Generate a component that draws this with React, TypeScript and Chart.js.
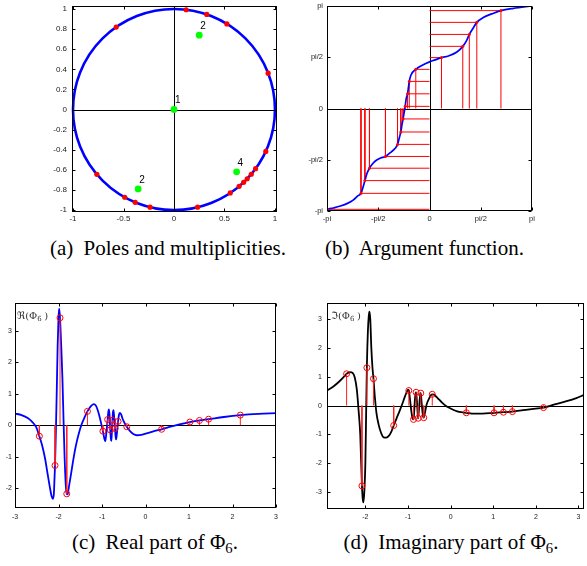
import React, { useEffect, useRef } from 'react';
import { Chart, registerables } from 'chart.js';

Chart.register(...registerables);

const PI = Math.PI;

// ---------------- data ----------------
// angles (rad) of the red points on the unit circle; also the abscissae of the stems in (c) and (d)
const POLE_ANGLES = [-2.44, -2.08, -1.965, -1.81, -1.335, -0.98, -0.87, -0.81, -0.76, -0.7, -0.63, -0.43, 0.37, 1.02, 1.24, 1.45, 2.18];
// green points and their multiplicities
const ZERO_X = [0, 0.25, -0.355, 0.62];
const ZERO_Y = [0, 0.74, -0.79, -0.62];
const ZERO_MULT = ['1', '2', '2', '4'];

// (b) argument function
const ARG_X = [-3.1416, -3.13, -2.95, -2.73, -2.5, -2.33, -2.2, -2.1, -2.04, -1.98, -1.92, -1.84, -1.75, -1.66, -1.5, -1.35, -1.16, -1.05, -0.98, -0.92, -0.88, -0.84, -0.81, -0.775, -0.745, -0.714, -0.673, -0.643, -0.62, -0.57, -0.42, -0.235, 0, 0.17, 0.367, 0.58, 0.84, 1.02, 1.14, 1.22, 1.33, 1.45, 1.65, 1.91, 2.19, 2.57, 3.1416];
const ARG_Y = [-3.1, -3.09, -3.05, -2.99, -2.9, -2.8, -2.68, -2.6, -2.42, -2.21, -2.0, -1.83, -1.7, -1.61, -1.52, -1.47, -1.32, -1.22, -1.1, -0.88, -0.72, -0.47, -0.32, -0.11, 0.066, 0.3, 0.45, 0.66, 0.83, 1.02, 1.2, 1.32, 1.43, 1.49, 1.56, 1.61, 1.73, 1.905, 2.09, 2.27, 2.45, 2.64, 2.79, 2.9, 3.0, 3.07, 3.1416];
const ARG_PT_X = [-3.13, -2.1, -1.98, -1.84, -1.35, -0.98, -0.88, -0.81, -0.745, -0.673, -0.62, -0.42, 0.367, 1.02, 1.22, 1.45, 2.19];
const ARG_LEVELS = [-3.09, -2.6, -2.21, -1.83, -1.47, -1.1, -0.72, -0.32, 0.066, 0.45, 0.83, 1.2, 1.56, 1.905, 2.27, 2.64, 3.0];
const ARG_TICKS = [-PI, -PI / 2, 0, PI / 2, PI];
const ARG_TICK_LABELS = ['-pi', '-pi/2', '0', 'pi/2', 'pi'];

// (c) real part
const RE_X = [-3, -2.85, -2.7, -2.6, -2.54, -2.5, -2.44, -2.38, -2.31, -2.25, -2.2, -2.16, -2.13, -2.105, -2.095, -2.08, -2.06, -2.04, -2.02, -2.0, -1.985, -1.965, -1.94, -1.91, -1.885, -1.86, -1.835, -1.81, -1.79, -1.765, -1.72, -1.66, -1.6, -1.53, -1.47, -1.4, -1.335, -1.26, -1.19, -1.14, -1.09, -1.03, -0.98, -0.95, -0.925, -0.9, -0.87, -0.855, -0.842, -0.828, -0.81, -0.797, -0.786, -0.774, -0.76, -0.747, -0.736, -0.72, -0.7, -0.686, -0.674, -0.657, -0.63, -0.61, -0.59, -0.56, -0.52, -0.47, -0.43, -0.36, -0.28, -0.2, -0.1, 0, 0.2, 0.37, 0.6, 0.8, 1.02, 1.24, 1.45, 1.8, 2.18, 2.6, 3];
const RE_Y = [0.37, 0.32, 0.22, 0.1, 0, -0.1, -0.35, -0.62, -1.05, -1.55, -1.96, -2.25, -2.34, -2.15, -1.8, -1.28, -0.2, 1.1, 2.5, 3.4, 3.7, 3.41, 2.6, 1.5, 0.2, -1.0, -1.85, -2.18, -2.2, -2.0, -1.62, -1.1, -0.65, -0.25, 0.02, 0.25, 0.44, 0.6, 0.67, 0.62, 0.44, 0.12, -0.19, -0.4, -0.51, -0.25, 0.18, 0.42, 0.5, 0.35, -0.15, -0.42, -0.5, -0.25, 0.16, 0.42, 0.48, 0.25, -0.11, -0.38, -0.45, -0.25, 0.12, 0.33, 0.39, 0.34, 0.18, 0.04, -0.05, -0.18, -0.28, -0.32, -0.31, -0.27, -0.19, -0.13, -0.04, 0.03, 0.1, 0.15, 0.19, 0.26, 0.32, 0.36, 0.38];
const RE_AT_POLES = [-0.35, -1.28, 3.41, -2.18, 0.44, -0.19, 0.18, -0.15, 0.16, -0.11, 0.12, -0.05, -0.13, 0.1, 0.15, 0.19, 0.32];

// (d) imaginary part
const IM_X = [-2.9, -2.75, -2.6, -2.5, -2.44, -2.36, -2.3, -2.25, -2.2, -2.16, -2.12, -2.08, -2.06, -2.045, -2.025, -2.0, -1.985, -1.965, -1.94, -1.92, -1.905, -1.885, -1.86, -1.835, -1.81, -1.78, -1.74, -1.69, -1.63, -1.57, -1.51, -1.45, -1.39, -1.335, -1.27, -1.2, -1.13, -1.07, -1.02, -0.995, -0.98, -0.955, -0.925, -0.895, -0.87, -0.855, -0.84, -0.82, -0.81, -0.795, -0.78, -0.768, -0.76, -0.748, -0.728, -0.71, -0.7, -0.685, -0.665, -0.645, -0.63, -0.61, -0.56, -0.5, -0.46, -0.43, -0.39, -0.31, -0.2, -0.1, 0, 0.1, 0.2, 0.37, 0.55, 0.75, 1.02, 1.24, 1.45, 1.7, 1.9, 2.18, 2.42, 2.72, 2.95, 3.13];
const IM_Y = [0.52, 0.66, 0.85, 1.0, 1.1, 1.16, 1.13, 0.98, 0.55, -0.15, -1.0, -2.78, -3.25, -3.35, -3.0, -2.0, -0.6, 1.31, 2.6, 3.1, 3.25, 3.0, 2.0, 1.35, 0.93, 0.35, -0.25, -0.65, -0.95, -1.1, -1.11, -1.05, -0.9, -0.69, -0.45, -0.2, 0.07, 0.32, 0.5, 0.55, 0.52, 0.25, -0.15, -0.44, -0.48, -0.25, 0.15, 0.44, 0.46, 0.25, -0.1, -0.38, -0.44, -0.25, 0.15, 0.41, 0.43, 0.2, -0.15, -0.38, -0.42, -0.3, 0.05, 0.26, 0.36, 0.39, 0.38, 0.27, 0.1, -0.02, -0.1, -0.17, -0.22, -0.25, -0.28, -0.28, -0.25, -0.23, -0.21, -0.16, -0.12, -0.07, 0.03, 0.15, 0.26, 0.37];
const IM_AT_POLES = [1.1, -2.78, 1.31, 0.93, -0.69, 0.52, -0.48, 0.46, -0.44, 0.43, -0.42, 0.39, -0.25, -0.25, -0.23, -0.21, -0.07];

const A_X_TICKS = [-1, -0.5, 0, 0.5, 1];
const A_Y_TICKS = [-1, -0.8, -0.6, -0.4, -0.2, 0, 0.2, 0.4, 0.6, 0.8, 1];
const C_X_TICKS = [-3, -2, -1, 0, 1, 2, 3];
const C_Y_TICKS = [-2, -1, 0, 1, 2, 3];
const D_X_TICKS = [-2, -1, 0, 1, 2, 3];
const D_Y_TICKS = [-3, -2, -1, 0, 1, 2, 3];

// ---------------- helpers ----------------
const pts = (xs: number[], ys: number[]) => xs.map((x, i) => ({ x, y: ys[i] }));
const vStems = (xs: number[], ys: number[]) =>
  xs.flatMap((x, i) => [{ x, y: 0 }, { x, y: ys[i] }, { x, y: null as any }]);
const hStems = (xs: number[], ys: number[]) =>
  xs.flatMap((x, i) => [{ x, y: ys[i] }, { x: 0, y: ys[i] }, { x: 0, y: null as any }]);

const TICK_FONT = '"Liberation Sans", Arial, Helvetica, sans-serif';

type AxisCfg = { min: number; max: number; ticks: number[]; labels?: string[]; size: number; pad: number; font: number };

function scale(ax: AxisCfg, isX: boolean) {
  return {
    type: 'linear',
    position: isX ? 'bottom' : 'left',
    min: ax.min,
    max: ax.max,
    grid: { display: false, drawTicks: false },
    border: { display: false },
    ticks: {
      padding: ax.pad,
      color: '#222',
      autoSkip: false,
      maxRotation: 0,
      minRotation: 0,
      font: { family: TICK_FONT, size: ax.font },
      callback: (v: number) => {
        const i = ax.ticks.findIndex((t) => Math.abs(t - v) < 1e-9);
        return ax.labels ? ax.labels[i] : String(v);
      },
    },
    afterBuildTicks: (s: any) => {
      s.ticks = ax.ticks.map((v) => ({ value: v }));
    },
    afterFit: (s: any) => {
      if (isX) s.height = ax.size;
      else s.width = ax.size;
      s.paddingLeft = 0;
      s.paddingRight = 0;
      s.paddingTop = 0;
      s.paddingBottom = 0;
    },
  };
}

function framePlugin(xTicks: number[], yTicks: number[], zeroX: boolean, zeroY: boolean, circle: boolean) {
  return {
    id: 'frame',
    beforeDatasetsDraw(chart: any) {
      const { ctx, chartArea: ca, scales } = chart;
      ctx.save();
      ctx.strokeStyle = '#000';
      ctx.lineWidth = 1;
      ctx.beginPath();
      if (zeroY) {
        const py = Math.round(scales.y.getPixelForValue(0)) + 0.5;
        ctx.moveTo(ca.left, py);
        ctx.lineTo(ca.right, py);
      }
      if (zeroX) {
        const px = Math.round(scales.x.getPixelForValue(0)) + 0.5;
        ctx.moveTo(px, ca.top);
        ctx.lineTo(px, ca.bottom);
      }
      ctx.stroke();
      if (circle) {
        const cx = scales.x.getPixelForValue(0);
        const cy = scales.y.getPixelForValue(0);
        const rx = scales.x.getPixelForValue(1) - cx;
        const ry = cy - scales.y.getPixelForValue(1);
        ctx.beginPath();
        ctx.ellipse(cx, cy, rx, ry, 0, 0, 2 * PI);
        ctx.strokeStyle = '#0000ff';
        ctx.lineWidth = 2.6;
        ctx.stroke();
      }
      ctx.restore();
    },
    afterDraw(chart: any) {
      const { ctx, chartArea: ca, scales } = chart;
      const l = Math.round(ca.left) + 0.5;
      const r = Math.round(ca.right) - 0.5;
      const t = Math.round(ca.top) + 0.5;
      const b = Math.round(ca.bottom) - 0.5;
      const tl = 3;
      ctx.save();
      ctx.strokeStyle = '#000';
      ctx.lineWidth = 1;
      ctx.strokeRect(l, t, r - l, b - t);
      ctx.beginPath();
      xTicks.forEach((v) => {
        const px = Math.round(scales.x.getPixelForValue(v)) + 0.5;
        ctx.moveTo(px, b);
        ctx.lineTo(px, b - tl);
        ctx.moveTo(px, t);
        ctx.lineTo(px, t + tl);
      });
      yTicks.forEach((v) => {
        const py = Math.round(scales.y.getPixelForValue(v)) + 0.5;
        ctx.moveTo(l, py);
        ctx.lineTo(l + tl, py);
        ctx.moveTo(r, py);
        ctx.lineTo(r - tl, py);
      });
      ctx.stroke();
      ctx.restore();
    },
  };
}

const multLabelPlugin = {
  id: 'multLabels',
  afterDatasetsDraw(chart: any) {
    const { ctx, scales } = chart;
    ctx.save();
    ctx.fillStyle = '#000';
    ctx.font = `10px ${TICK_FONT}`;
    ctx.textAlign = 'left';
    ctx.textBaseline = 'middle';
    ZERO_X.forEach((x, i) => {
      const px = scales.x.getPixelForValue(x);
      const py = scales.y.getPixelForValue(ZERO_Y[i]);
      ctx.fillText(ZERO_MULT[i], px + 1, py - 9);
    });
    ctx.restore();
  },
};

function mathLabelPlugin(prefix: string, dx: number) {
  return {
    id: 'mathLabel',
    afterDatasetsDraw(chart: any) {
      const { ctx, chartArea: ca } = chart;
      ctx.save();
      ctx.fillStyle = '#333';
      ctx.textAlign = 'left';
      ctx.textBaseline = 'alphabetic';
      let x = ca.left + dx;
      const y = ca.top + 16;
      const big = '10px "DejaVu Serif", "DejaVu Sans", serif';
      const small = '7px "DejaVu Serif", "DejaVu Sans", serif';
      ctx.font = big;
      const s1 = prefix + '(\u03A6';
      ctx.fillText(s1, x, y);
      x += ctx.measureText(s1).width;
      ctx.font = small;
      ctx.fillText('6', x, y + 2);
      x += ctx.measureText('6').width + 2.5;
      ctx.font = big;
      ctx.fillText(')', x, y);
      ctx.restore();
    },
  };
}

function baseOptions(padTop: number, padRight: number, xs: any, ys: any) {
  return {
    animation: false,
    responsive: false,
    devicePixelRatio: 1,
    events: [],
    layout: { padding: { left: 0, top: padTop, right: padRight, bottom: 0 } },
    plugins: { legend: { display: false }, tooltip: { enabled: false } },
    scales: { x: xs, y: ys },
  };
}

// ---------------- chart builders ----------------
function buildA(): any {
  return {
    type: 'scatter',
    data: {
      datasets: [
        {
          data: pts(ZERO_X, ZERO_Y),
          pointRadius: 3.4,
          pointBackgroundColor: '#00ff00',
          pointBorderWidth: 0,
          showLine: false,
        },
        {
          data: POLE_ANGLES.map((a) => ({ x: Math.cos(a), y: Math.sin(a) })),
          pointRadius: 2.6,
          pointBackgroundColor: '#ff0000',
          pointBorderWidth: 0,
          showLine: false,
        },
      ],
    },
    options: baseOptions(
      6,
      18,
      scale({ min: -1.01, max: 1.02, ticks: A_X_TICKS, size: 20, pad: 2, font: 8 }, true),
      scale({ min: -1.02, max: 1.03, ticks: A_Y_TICKS, size: 62, pad: 5, font: 8 }, false)
    ),
    plugins: [framePlugin(A_X_TICKS, A_Y_TICKS, true, true, true), multLabelPlugin],
  };
}

function buildB(): any {
  return {
    type: 'scatter',
    data: {
      datasets: [
        {
          data: pts(ARG_PT_X, ARG_LEVELS),
          pointRadius: 1.5,
          pointBackgroundColor: '#ff0000',
          pointBorderWidth: 0,
          showLine: false,
        },
        {
          data: pts(ARG_X, ARG_Y),
          showLine: true,
          borderColor: '#0000ff',
          borderWidth: 1.7,
          pointRadius: 0,
          cubicInterpolationMode: 'monotone',
        },
        {
          data: hStems(ARG_PT_X, ARG_LEVELS),
          showLine: true,
          borderColor: '#ff0000',
          borderWidth: 1,
          pointRadius: 0,
        },
        {
          data: vStems(ARG_PT_X, ARG_LEVELS),
          showLine: true,
          borderColor: '#ff0000',
          borderWidth: 1,
          pointRadius: 0,
        },
      ],
    },
    options: baseOptions(
      6,
      55,
      scale({ min: -PI, max: PI, ticks: ARG_TICKS, labels: ARG_TICK_LABELS, size: 21, pad: 3, font: 7.5 }, true),
      scale({ min: -PI, max: PI, ticks: ARG_TICKS, labels: ARG_TICK_LABELS, size: 32, pad: 4, font: 7.5 }, false)
    ),
    plugins: [framePlugin(ARG_TICKS, ARG_TICKS, true, true, false)],
  };
}

function buildPart(
  curveX: number[],
  curveY: number[],
  values: number[],
  color: string,
  xAx: AxisCfg,
  yAx: AxisCfg,
  padRight: number,
  prefix: string,
  dx: number
): any {
  return {
    type: 'scatter',
    data: {
      datasets: [
        {
          data: pts(POLE_ANGLES, values),
          pointRadius: 3,
          pointBackgroundColor: 'rgba(0,0,0,0)',
          pointBorderColor: '#ff0000',
          pointBorderWidth: 1,
          showLine: false,
        },
        {
          data: vStems(POLE_ANGLES, values),
          showLine: true,
          borderColor: '#ff2020',
          borderWidth: 1,
          pointRadius: 0,
        },
        {
          data: pts(curveX, curveY),
          showLine: true,
          borderColor: color,
          borderWidth: 1.8,
          pointRadius: 0,
          cubicInterpolationMode: 'monotone',
        },
      ],
    },
    options: baseOptions(13, padRight, scale(xAx, true), scale(yAx, false)),
    plugins: [framePlugin(xAx.ticks, yAx.ticks, false, true, false), mathLabelPlugin(prefix, dx)],
  };
}

function buildC(): any {
  return buildPart(
    RE_X,
    RE_Y,
    RE_AT_POLES,
    '#0000ff',
    { min: -3, max: 3, ticks: C_X_TICKS, size: 22, pad: 5, font: 7 },
    { min: -2.63, max: 3.88, ticks: C_Y_TICKS, size: 15, pad: 3, font: 7 },
    19,
    '\u211C',
    2
  );
}

function buildD(): any {
  return buildPart(
    IM_X,
    IM_Y,
    IM_AT_POLES,
    '#000000',
    { min: -2.9, max: 3.13, ticks: D_X_TICKS, size: 21, pad: 4, font: 7 },
    { min: -3.58, max: 3.55, ticks: D_Y_TICKS, size: 32, pad: 5, font: 7 },
    1,
    '\u2111',
    4
  );
}

// ---------------- components ----------------
function Panel(props: { left: number; top: number; width: number; height: number; build: () => any }) {
  const ref = useRef<HTMLCanvasElement>(null);
  useEffect(() => {
    const chart = new Chart(ref.current as HTMLCanvasElement, props.build());
    return () => chart.destroy();
  }, []);
  return (
    <canvas
      ref={ref}
      width={props.width}
      height={props.height}
      style={{ position: 'absolute', left: props.left, top: props.top, width: props.width, height: props.height, display: 'block' }}
    />
  );
}

const CAP_FONT = 21;
function Caption(props: { cx: number; baseline: number; label: string; children: React.ReactNode }) {
  return (
    <div
      style={{
        position: 'absolute',
        left: props.cx - 170,
        width: 340,
        top: props.baseline - 17.6,
        textAlign: 'center',
        whiteSpace: 'nowrap',
        fontFamily: '"Liberation Serif", "Times New Roman", Times, serif',
        fontSize: CAP_FONT,
        lineHeight: `${CAP_FONT}px`,
        color: '#000',
      }}
    >
      <span style={{ marginRight: 5 }}>{props.label}</span> {props.children}
    </div>
  );
}

const Phi6 = () => (
  <span>
    {'\u03A6'}
    <sub style={{ fontSize: '0.7em', verticalAlign: '-0.25em', lineHeight: 0 }}>6</sub>
  </span>
);

export default function App() {
  return (
    <div style={{ position: 'absolute', left: 0, top: 0, width: 587, height: 566, overflow: 'hidden', background: '#fff' }}>
      <Panel left={10} top={0} width={285} height={232} build={buildA} />
      <Panel left={295} top={0} width={292} height={232} build={buildB} />
      <Panel left={0} top={290} width={295} height={240} build={buildC} />
      <Panel left={295} top={290} width={294} height={240} build={buildD} />
      <Caption cx={168} baseline={256} label="(a)">Poles and multiplicities.</Caption>
      <Caption cx={424.5} baseline={256} label="(b)">Argument function.</Caption>
      <Caption cx={155} baseline={550} label="(c)">
        Real part of <Phi6 />.
      </Caption>
      <Caption cx={451} baseline={550} label="(d)">
        Imaginary part of <Phi6 />.
      </Caption>
    </div>
  );
}
